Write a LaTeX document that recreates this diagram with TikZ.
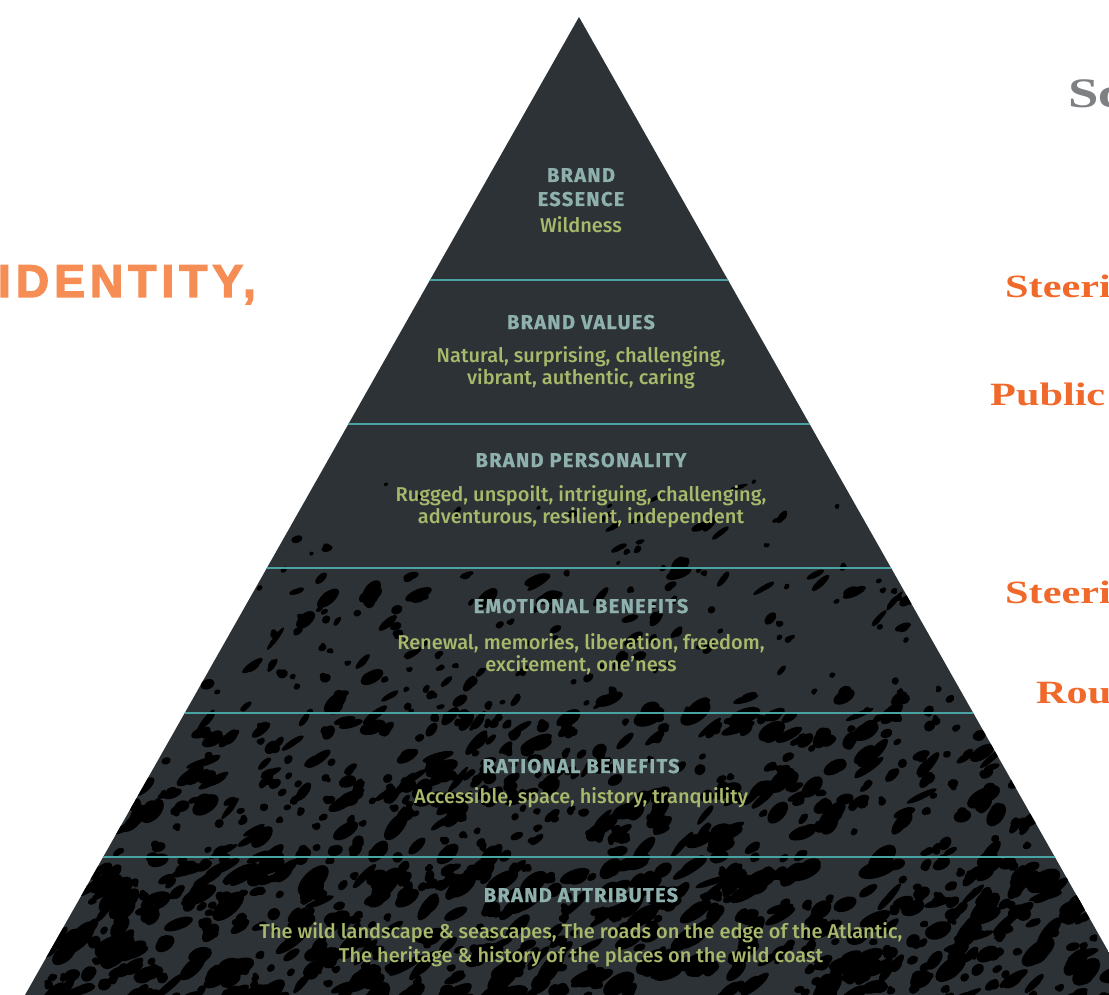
\documentclass[tikz,border=0pt]{standalone}
\usepackage{fontspec}
\setmainfont{Fira Sans}
\newfontfamily\pyrhead{Fira Sans}[LetterSpace=6.5, FakeBold=0.6]
\newfontfamily\pyrbody{Fira Sans Medium}
\newfontfamily\heavyf{Liberation Sans}[FakeBold=3, LetterSpace=11]
\newfontfamily\serifbf{Liberation Serif}[FakeStretch=1.3]
\definecolor{pyrfill}{HTML}{2D3236}
\definecolor{tealline}{HTML}{4AA3A3}
\definecolor{headcol}{HTML}{8FB1AE}
\definecolor{bodycol}{HTML}{A8B96C}
\definecolor{orangeL}{HTML}{F68D55}
\definecolor{orangeR}{HTML}{F0692A}
\definecolor{grayR}{HTML}{7E8083}
\tikzset{
  head/.style={anchor=base, inner sep=0, text=headcol, font=\fontsize{20}{22}\selectfont\pyrhead\bfseries},
  body/.style={anchor=base, inner sep=0, text=bodycol, font=\fontsize{20}{22}\selectfont\pyrbody},
  sidetext/.style={anchor=base west, inner sep=0, font=\fontsize{32.5}{34}\selectfont\serifbf\bfseries},
  divider/.style={draw=tealline, line width=2pt}
}
\begin{document}
\begin{tikzpicture}[x=1pt,y=-1pt]
\useasboundingbox (0,0) rectangle (1109,995);
\clip (0,0) rectangle (1109,995);
\fill[white] (0,0) rectangle (1109,995);
% pyramid with texture
\begin{scope}
  \clip (579,17) -- (25,995) -- (1133,995) -- cycle;
  \fill[pyrfill] (0,0) rectangle (1109,995);
  \pgfmathsetseed{4242}
  \foreach \cnt/\ya/\yb/\sc in {30/480/568/0.9, 150/568/713/1.25, 380/713/857/1.55, 560/857/1000/1.75}{
    \foreach \i in {1,...,\cnt}{
      \pgfmathsetmacro{\yy}{\ya+(\yb-\ya)*rnd}
      \pgfmathsetmacro{\xx}{579+(2*rnd-1)*0.5665*(\yy-17)}
      \pgfmathsetmacro{\k}{rnd}
      \pgfmathsetmacro{\rx}{(2.5+9*\k*\k)*\sc}
      \pgfmathsetmacro{\ry}{(1.8+4*\k*rnd)*\sc}
      \pgfmathsetmacro{\ang}{15+40*rnd}
      \pgfmathsetmacro{\dx}{(rnd-0.5)*\rx}
      \pgfmathsetmacro{\dy}{(rnd-0.5)*\ry*1.6}
      \fill[black, rotate around={\ang:(\xx,\yy)}] (\xx,\yy) ellipse ({\rx} and {\ry})
        ({\xx+\dx},{\yy+\dy}) ellipse ({0.6*\rx} and {0.8*\ry});
    }
  }
  \foreach \yl in {280,424,568,713,857}{
    \draw[divider] (0,\yl) -- (1109,\yl);
  }
\end{scope}
% pyramid texts
\node[head] (essA) at (581,182) {BRAND};
\node[head] (essB) at (581,206) {ESSENCE};
\node[body] (essC) at (581,233) {Wildness};
\node[head] (valH) at (581,329) {BRAND VALUES};
\node[body] (valA) at (581,362) {Natural, surprising, challenging,};
\node[body] (valB) at (581,384) {vibrant, authentic, caring};
\node[head] (perH) at (581,467) {BRAND PERSONALITY};
\node[body] (perA) at (581,501) {Rugged, unspoilt, intriguing, challenging,};
\node[body] (perB) at (581,523) {adventurous, resilient, independent};
\node[head] (emoH) at (581,613) {EMOTIONAL BENEFITS};
\node[body] (emoA) at (581,649) {Renewal, memories, liberation, freedom,};
\node[body] (emoB) at (581,671) {excitement, one’ness};
\node[head] (ratH) at (581,773) {RATIONAL BENEFITS};
\node[body] (ratA) at (581,803) {Accessible, space, history, tranquility};
\node[head] (attH) at (581,902) {BRAND ATTRIBUTES};
\node[body] (attA) at (581,938) {The wild landscape \& seascapes, The roads on the edge of the Atlantic,};
\node[body] (attB) at (581,962) {The heritage \& history of the places on the wild coast};
% left title
\node[anchor=base east, inner sep=0, text=orangeL, font=\fontsize{46}{50}\selectfont\heavyf\bfseries] (ident) at (256,297) {IDENTITY,};
% right side texts
\node[sidetext, text=grayR, font=\fontsize{42}{44}\selectfont\serifbf\bfseries] (scA) at (1068,108) {Sc};
\node[sidetext, text=orangeR] (stA) at (1005,298) {Steeri};
\node[sidetext, text=orangeR] (puA) at (990,405) {Public};
\node[sidetext, text=orangeR] (stB) at (1005,603) {Steeri};
\node[sidetext, text=orangeR] (roA) at (1036,703) {Rou};
\end{tikzpicture}
\end{document}
